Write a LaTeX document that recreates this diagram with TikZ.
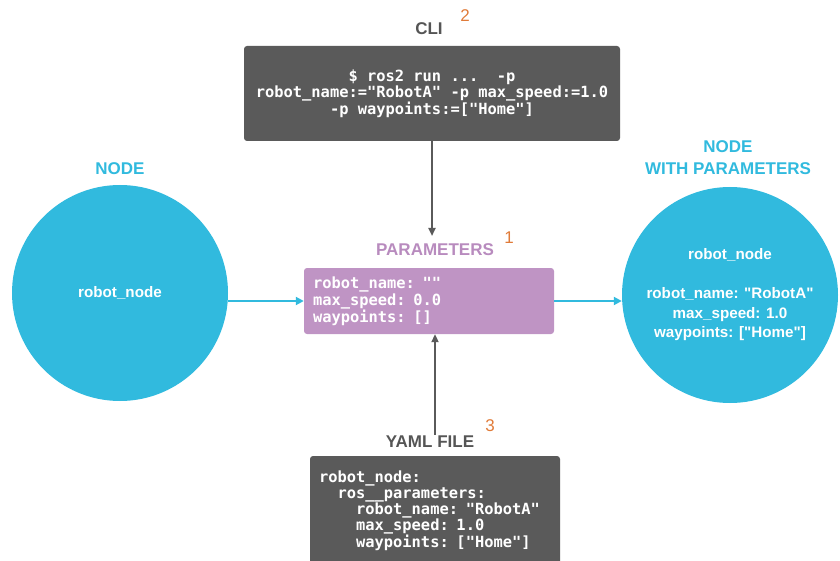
\documentclass[tikz,border=0pt]{standalone}
\usepackage{fontspec}
\setmainfont{Liberation Sans}
\setmonofont{DejaVu Sans Mono}
\usetikzlibrary{positioning,arrows.meta}
\definecolor{nodeblue}{HTML}{31BADE}
\definecolor{parampurple}{HTML}{BF94C4}
\definecolor{labelpurple}{HTML}{B88BBE}
\definecolor{codegrey}{HTML}{5A5A5A}
\definecolor{labelgrey}{HTML}{555555}
\definecolor{numorange}{HTML}{E07B39}
\newcommand{\ind}[1]{\phantom{#1}}
\tikzstyle{robot} = [circle, fill=nodeblue, text=white, minimum size=216pt,
    inner sep=0pt, align=center, font=\bfseries\fontsize{15.2}{19.5}\selectfont]
\tikzstyle{codebox} = [rectangle, rounded corners=3pt, fill=codegrey, text=white,
    font=\ttfamily\bfseries\fontsize{15.4}{16}\selectfont]
\tikzstyle{parambox} = [rectangle, rounded corners=3pt, fill=parampurple, text=white,
    inner xsep=9pt, text width=232pt, align=left, minimum height=66pt,
    font=\ttfamily\bfseries\fontsize{15.4}{17}\selectfont]
\tikzstyle{title} = [inner sep=1pt, align=center, font=\bfseries\fontsize{17}{22}\selectfont]
\tikzstyle{num} = [inner sep=1pt, text=numorange, font=\fontsize{17}{20}\selectfont]
\tikzstyle{cline} = [draw=nodeblue, line width=2pt, -{Triangle[length=8pt,width=8pt]}]
\tikzstyle{gline} = [draw=codegrey, line width=2pt, -{Triangle[length=8pt,width=7pt]}]

\begin{document}
\begin{tikzpicture}[x=1pt,y=-1pt]
    \useasboundingbox (0,0) rectangle (840,561);
    % Place nodes
    \node[robot] (plain) at (120,293) {robot\_node};
    \node[title, text=nodeblue, above=9pt of plain] (plainlabel) {NODE};
    \node[robot] (withparams) at (730,295) {robot\_node\\[19.5pt]robot\_name: \textquotedbl RobotA\textquotedbl\\max\_speed: 1.0\\waypoints: [\textquotedbl Home\textquotedbl]};
    \node[title, text=nodeblue] (withlabel) at (728,158) {NODE\\WITH PARAMETERS};
    \node[parambox] (params) at (429,301) {robot\_name: ""\\max\_speed: 0.0\\waypoints: []};
    \node[title, text=labelpurple] (paramlabel) at (435,250) {PARAMETERS};
    \node[num] at (509,238) {1};
    \node[codebox, minimum width=376pt, minimum height=95pt, align=center] (cli) at (432,93.5)
        {\$ ros2 run ...\ind{xx}-p\\robot\_name:="RobotA" -p max\_speed:=1.0\\-p waypoints:=["Home"]};
    \node[title, text=labelgrey] (clilabel) at (429,29) {CLI};
    \node[num] at (465,16) {2};
    \node[codebox, inner xsep=9pt, text width=232pt, align=left, minimum height=110pt] (yaml) at (435,511)
        {robot\_node:\\\ind{xx}ros\_\_parameters:\\\ind{xxxx}robot\_name: "RobotA"\\\ind{xxxx}max\_speed: 1.0\\\ind{xxxx}waypoints: ["Home"]};
    \node[title, text=labelgrey] (yamllabel) at (430,442) {YAML FILE};
    \node[num] at (490,426) {3};
    % Draw edges
    \path [cline] (plain.east |- params.west) -- (params.west);
    \path [cline] (params.east) -- (params.east -| withparams.west);
    \path [gline] (cli.south) -- (cli.south |- 0,236);
    \path [gline] (yamllabel.north -| 435,0) -- (params.south -| 435,0);
\end{tikzpicture}
\end{document}
